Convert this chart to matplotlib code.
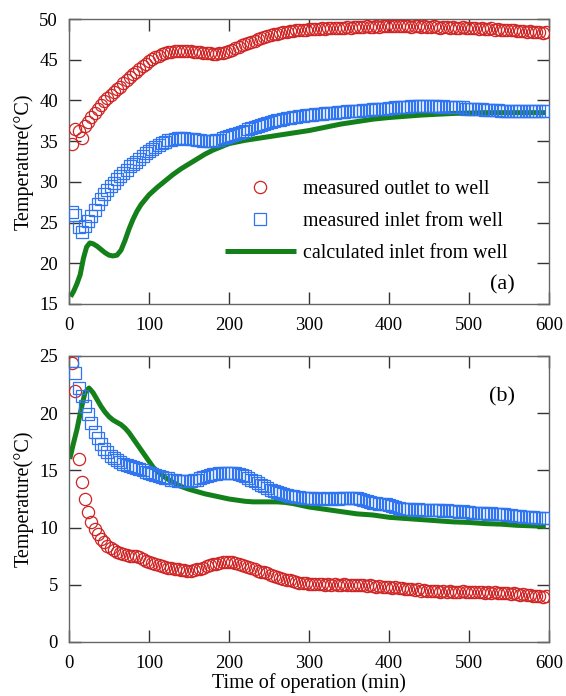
import numpy as np
import matplotlib
matplotlib.use("Agg")
import matplotlib.pyplot as plt

plt.rcParams['font.family'] = ['Liberation Serif', 'DejaVu Serif']

# ---------------- data ----------------
STEP = 4  # sampling interval of the measured series (min), first sample at 4 min

RED_A = [34.6, 36.5, 36.2, 35.4, 36.9, 37.4, 38.0, 38.5, 39.0, 39.4,
         39.9, 40.3, 40.65, 41.0, 41.35, 41.7, 42.1, 42.5, 42.85, 43.2,
         43.55, 43.9, 44.2, 44.5, 44.8, 45.05, 45.3, 45.5, 45.7, 45.85,
         45.95, 46.0, 46.05, 46.1, 46.1, 46.1, 46.1, 46.05, 46.0, 45.95,
         45.9, 45.85, 45.8, 45.8, 45.75, 45.75, 45.8, 45.85, 45.95, 46.05,
         46.2, 46.4, 46.6, 46.75, 46.9, 47.05, 47.2, 47.35, 47.5, 47.65,
         47.8, 47.9, 48.0, 48.1, 48.2, 48.3, 48.4, 48.45, 48.5, 48.55,
         48.6, 48.65, 48.7, 48.7, 48.75, 48.8, 48.75, 48.8, 48.85, 48.8,
         48.9, 48.85, 48.9, 48.95, 48.9, 48.95, 49.0, 48.95, 49.0, 49.05,
         49.0, 49.0, 49.1, 49.05, 49.0, 49.1, 49.05, 49.1, 49.15, 49.1,
         49.2, 49.1, 49.15, 49.1, 49.2, 49.1, 49.05, 49.15, 49.1, 49.0,
         49.1, 49.05, 49.0, 49.1, 49.0, 48.95, 49.05, 49.0, 48.9, 49.0,
         48.95, 48.9, 49.0, 48.9, 48.85, 48.95, 48.85, 48.8, 48.9, 48.8,
         48.75, 48.85, 48.7, 48.75, 48.7, 48.65, 48.7, 48.6, 48.65, 48.55,
         48.5, 48.55, 48.45, 48.5, 48.4, 48.35, 48.4, 48.3, 48.35]

BLUE_A = [26.3, 25.9, 24.5, 23.9, 24.6, 25.2, 25.8, 26.6, 27.3, 27.9,
          28.5, 29.0, 29.5, 29.9, 30.3, 30.7, 31.1, 31.5, 31.9, 32.2,
          32.5, 32.85, 33.2, 33.5, 33.8, 34.05, 34.3, 34.55, 34.75, 34.95,
          35.1, 35.2, 35.3, 35.35, 35.35, 35.35, 35.3, 35.3, 35.25, 35.2,
          35.1, 35.05, 35.0, 35.0, 35.05, 35.1, 35.2, 35.35, 35.5, 35.6,
          35.75, 35.9, 36.0, 36.15, 36.3, 36.45, 36.6, 36.75, 36.9, 37.0,
          37.15, 37.25, 37.35, 37.45, 37.55, 37.65, 37.75, 37.8, 37.9, 37.95,
          38.0, 38.05, 38.1, 38.15, 38.2, 38.25, 38.3, 38.3, 38.35, 38.4,
          38.45, 38.5, 38.5, 38.55, 38.6, 38.6, 38.65, 38.7, 38.7, 38.75,
          38.75, 38.8, 38.85, 38.85, 38.9, 38.9, 38.95, 39.0, 39.0, 39.05,
          39.1, 39.15, 39.2, 39.2, 39.25, 39.25, 39.3, 39.3, 39.3, 39.3,
          39.3, 39.3, 39.3, 39.3, 39.3, 39.25, 39.3, 39.25, 39.25, 39.2,
          39.2, 39.2, 39.15, 39.0, 38.95, 38.95, 38.9, 38.9, 38.9, 38.85,
          38.85, 38.85, 38.8, 38.8, 38.75, 38.75, 38.7, 38.7, 38.7, 38.7,
          38.7, 38.7, 38.7, 38.7, 38.7, 38.7, 38.7, 38.7, 38.7]

GREEN_A_T = [2, 6, 10, 14, 18, 22, 26, 30, 35, 40, 45, 50, 55, 60, 65, 70, 75,
             80, 85, 90, 100, 110, 120, 130, 140, 150, 160, 170, 180, 190, 200,
             220, 240, 260, 280, 300, 320, 340, 360, 380, 400, 420, 440, 460,
             480, 500, 520, 540, 560, 580, 596]
GREEN_A = [15.9, 16.6, 17.5, 18.6, 20.6, 22.0, 22.5, 22.4, 22.1, 21.7, 21.3,
           21.0, 20.9, 21.0, 21.6, 22.8, 24.2, 25.4, 26.4, 27.2, 28.4, 29.3,
           30.1, 30.9, 31.6, 32.2, 32.8, 33.4, 33.9, 34.3, 34.7, 35.1, 35.4,
           35.7, 36.0, 36.3, 36.7, 37.1, 37.4, 37.7, 37.9, 38.05, 38.2, 38.3,
           38.4, 38.45, 38.5, 38.5, 38.5, 38.5, 38.5]

RED_B = [24.4, 21.9, 16.0, 14.0, 12.5, 11.4, 10.5, 9.9, 9.4, 9.0,
         8.7, 8.4, 8.2, 8.0, 7.85, 7.75, 7.65, 7.6, 7.55, 7.5,
         7.5, 7.4, 7.25, 7.1, 7.0, 6.9, 6.8, 6.7, 6.6, 6.55,
         6.5, 6.45, 6.4, 6.35, 6.3, 6.3, 6.25, 6.25, 6.3, 6.35,
         6.4, 6.5, 6.6, 6.7, 6.8, 6.85, 6.9, 6.95, 7.0, 7.0,
         6.95, 6.9, 6.85, 6.75, 6.65, 6.55, 6.45, 6.35, 6.25, 6.15,
         6.1, 6.0, 5.9, 5.8, 5.7, 5.6, 5.5, 5.45, 5.4, 5.35,
         5.25, 5.2, 5.15, 5.15, 5.1, 5.1, 5.05, 5.1, 5.05, 5.0,
         5.05, 5.0, 5.05, 5.0, 5.0, 5.05, 4.95, 5.0, 5.0, 4.95,
         5.0, 4.95, 4.9, 4.95, 4.9, 4.85, 4.9, 4.85, 4.8, 4.85,
         4.75, 4.8, 4.7, 4.7, 4.65, 4.6, 4.65, 4.55, 4.6, 4.5,
         4.55, 4.5, 4.45, 4.5, 4.45, 4.4, 4.45, 4.4, 4.45, 4.4,
         4.4, 4.35, 4.45, 4.4, 4.35, 4.4, 4.35, 4.4, 4.35, 4.3,
         4.35, 4.3, 4.35, 4.3, 4.25, 4.3, 4.25, 4.2, 4.25, 4.2,
         4.15, 4.2, 4.1, 4.1, 4.05, 4.0, 4.0, 3.95, 4.0]

BLUE_B = [24.6, 23.5, 22.2, 21.5, 20.6, 19.9, 19.1, 18.4, 17.8, 17.3,
          16.9, 16.6, 16.3, 16.1, 15.9, 15.75, 15.6, 15.5, 15.4, 15.3,
          15.2, 15.1, 15.0, 14.9, 14.8, 14.7, 14.6, 14.5, 14.4, 14.35,
          14.3, 14.2, 14.15, 14.1, 14.05, 14.05, 14.1, 14.1, 14.15, 14.2,
          14.3, 14.4, 14.5, 14.6, 14.65, 14.7, 14.75, 14.8, 14.8, 14.8,
          14.8, 14.75, 14.7, 14.6, 14.5, 14.35, 14.2, 14.05, 13.9, 13.75,
          13.6, 13.45, 13.3, 13.2, 13.1, 13.0, 12.9, 12.85, 12.8, 12.75,
          12.7, 12.65, 12.6, 12.6, 12.55, 12.55, 12.5, 12.55, 12.5, 12.5,
          12.55, 12.5, 12.55, 12.5, 12.55, 12.6, 12.55, 12.6, 12.55, 12.55,
          12.5, 12.45, 12.3, 12.2, 12.15, 12.15, 12.1, 12.1, 12.05, 12.0,
          11.9, 11.8, 11.7, 11.65, 11.6, 11.6, 11.6, 11.55, 11.6, 11.55,
          11.55, 11.5, 11.55, 11.5, 11.5, 11.5, 11.45, 11.5, 11.45, 11.45,
          11.45, 11.4, 11.45, 11.4, 11.35, 11.3, 11.3, 11.25, 11.25, 11.25,
          11.2, 11.25, 11.2, 11.2, 11.15, 11.15, 11.1, 11.1, 11.05, 11.0,
          11.0, 10.95, 10.95, 10.9, 10.9, 10.85, 10.85, 10.8, 10.8]

GREEN_B_T = [1, 5, 10, 15, 20, 25, 30, 35, 40, 45, 50, 55, 60, 65, 70, 75, 80,
             85, 90, 95, 100, 105, 110, 120, 130, 140, 150, 160, 170, 180, 190,
             200, 210, 220, 230, 240, 250, 260, 270, 280, 290, 300, 320, 340,
             360, 380, 400, 420, 440, 460, 480, 500, 520, 540, 560, 580, 596]
GREEN_B = [16.0, 17.2, 18.6, 20.3, 21.8, 22.2, 21.8, 21.2, 20.6, 20.1, 19.7,
           19.4, 19.2, 19.0, 18.7, 18.3, 17.8, 17.3, 16.8, 16.3, 15.8, 15.3,
           14.95, 14.4, 13.95, 13.6, 13.35, 13.15, 12.95, 12.8, 12.65, 12.5,
           12.4, 12.3, 12.25, 12.25, 12.25, 12.25, 12.2, 12.1, 11.95, 11.8,
           11.6, 11.4, 11.2, 11.1, 10.9, 10.8, 10.7, 10.6, 10.5, 10.45,
           10.35, 10.3, 10.2, 10.15, 10.1]

LABELS = ["measured outlet to well", "measured inlet from well",
          "calculated inlet from well"]
XTICKS = [0, 100, 200, 300, 400, 500, 600]
YTICKS_A = [15, 20, 25, 30, 35, 40, 45, 50]
YTICKS_B = [0, 5, 10, 15, 20, 25]


def times(vals):
    return STEP * np.arange(1, len(vals) + 1)


RED = '#d02424'
BLUE = '#2f74f0'
GREEN = '#14801a'
SPINE = '#666666'

TICK_FS = 13.5
LABEL_FS = 14.5
LEG_FS = 14.3

fig = plt.figure(figsize=(5.66, 6.96), dpi=100)
W, H = 566, 696
ax_a = fig.add_axes([69 / W, 1 - 304 / H, 480 / W, 285 / H])
ax_b = fig.add_axes([69 / W, 1 - 642 / H, 480 / W, 286 / H])

mk = dict(linestyle='none', markersize=8.8, markerfacecolor='none',
          markeredgewidth=0.9)


def draw(ax, red, blue, gt, green, ylim, yticks):
    ax.plot(gt, green, color=GREEN, lw=3.6, solid_capstyle='butt', zorder=2,
            label=LABELS[2])
    ax.plot(times(red), red, marker='o', markeredgecolor=RED, zorder=3,
            label=LABELS[0], **mk)
    ax.plot(times(blue), blue, marker='s', markeredgecolor=BLUE, zorder=4,
            label=LABELS[1], **mk)
    ax.set_xlim(0, 600)
    ax.set_ylim(*ylim)
    ax.set_xticks(XTICKS)
    ax.set_yticks(yticks)
    ax.tick_params(direction='in', length=8.5, width=1.0, color='#333333',
                   top=True, right=True, labelsize=TICK_FS)
    ax.tick_params(axis='x', pad=9.5)
    ax.tick_params(axis='y', pad=8)
    for s in ax.spines.values():
        s.set_color(SPINE)
        s.set_linewidth(1.0)
    ax.set_ylabel("Temperature(°C)", fontsize=LABEL_FS, labelpad=4)


draw(ax_a, RED_A, BLUE_A, GREEN_A_T, GREEN_A, (15, 50), YTICKS_A)
draw(ax_b, RED_B, BLUE_B, GREEN_B_T, GREEN_B, (0, 25), YTICKS_B)

h, l = ax_a.get_legend_handles_labels()
order = [1, 2, 0]
ax_a.legend([h[i] for i in order], [l[i] for i in order], loc='upper left',
            bbox_to_anchor=((225 - 69) / 480, (304 - 180) / 285),
            frameon=False, fontsize=LEG_FS, handlelength=3.57,
            handletextpad=0.35, labelspacing=0.65, borderpad=0,
            borderaxespad=0)

ax_a.text((502 - 69) / 480, (304 - 285) / 285, "(a)", transform=ax_a.transAxes,
          ha='center', va='center', fontsize=16)
ax_b.text((502 - 69) / 480, (642 - 397) / 286, "(b)", transform=ax_b.transAxes,
          ha='center', va='center', fontsize=16)

ax_b.set_xlabel("Time of operation (min)", fontsize=LABEL_FS, labelpad=1)

fig.savefig("out.png", dpi=100)
